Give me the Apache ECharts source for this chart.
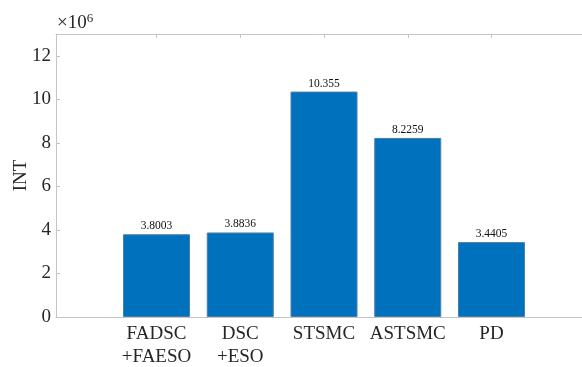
<!DOCTYPE html>
<html>
<head>
<meta charset="utf-8">
<script src="https://cdn.jsdelivr.net/npm/echarts@6/dist/echarts.min.js"></script>
<style>
  html, body { margin: 0; padding: 0; background: #fff; }
  #chart { width: 582px; height: 367px; }
</style>
</head>
<body>
<div id="chart"></div>
<script>
// Controller comparison: integral performance index (×10^6)
const categories = ['FADSC\n+FAESO', 'DSC\n+ESO', 'STSMC', 'ASTSMC', 'PD'];
const positions = [1, 2, 3, 4, 5];
const intValues = [3.8003, 3.8836, 10.355, 8.2259, 3.4405];
const valueLabels = ['3.8003', '3.8836', '10.355', '8.2259', '3.4405'];
const yTicks = [0, 2, 4, 6, 8, 10, 12];

const FONT = '"Liberation Serif", "DejaVu Serif", serif';
const AXIS = '#c4c4c4';
const TEXT = '#262626';

const chart = echarts.init(document.getElementById('chart'), null, { renderer: 'canvas' });

const xCommon = {
  type: 'value',
  min: -0.2,
  max: 6.2,
  splitLine: { show: false },
  axisLine: { show: true, onZero: false, lineStyle: { color: AXIS, width: 1 } },
  axisTick: { show: true, inside: true, length: 4, customValues: positions,
              lineStyle: { color: AXIS, width: 1 } }
};

chart.setOption({
  animation: false,
  grid: { left: 56, top: 34, right: -10, bottom: 50, containLabel: false, outerBoundsMode: 'none' },
  xAxis: [
    Object.assign({}, xCommon, {
      position: 'bottom',
      axisLabel: {
        show: true,
        customValues: positions,
        formatter: v => categories[positions.indexOf(Math.round(v))] || '',
        color: TEXT, fontFamily: FONT, fontSize: 19, lineHeight: 23, margin: 6
      }
    }),
    Object.assign({}, xCommon, {
      position: 'top',
      axisLabel: { show: false }
    })
  ],
  yAxis: [
    {
      type: 'value', min: 0, max: 13, position: 'left',
      name: 'INT', nameLocation: 'middle', nameGap: 25, nameRotate: 90,
      nameMoveOverlap: false,
      nameTextStyle: { color: TEXT, fontFamily: FONT, fontSize: 19 },
      splitLine: { show: false },
      axisLine: { show: true, onZero: false, lineStyle: { color: AXIS, width: 1 } },
      axisTick: { show: true, inside: true, length: 4, customValues: yTicks,
                  lineStyle: { color: AXIS } },
      axisLabel: { customValues: yTicks, color: TEXT, fontFamily: FONT, fontSize: 19, margin: 5 }
    },
    {
      type: 'value', min: 0, max: 13, position: 'right',
      splitLine: { show: false },
      axisLine: { show: true, onZero: false, lineStyle: { color: AXIS } },
      axisTick: { show: false },
      axisLabel: { show: false }
    }
  ],
  graphic: [
    {
      type: 'text', left: 57, top: 12,
      style: {
        text: '{m|×10}{e|6}',
        rich: {
          m: { fontFamily: FONT, fontSize: 19, fill: TEXT, verticalAlign: 'bottom', lineHeight: 21 },
          e: { fontFamily: FONT, fontSize: 13, fill: TEXT, verticalAlign: 'top', lineHeight: 21, padding: [0, 0, 9, 0] }
        }
      }
    }
  ],
  series: [
    {
      type: 'bar',
      xAxisIndex: 0, yAxisIndex: 0,
      barWidth: 67,
      data: positions.map((p, i) => [p, intValues[i]]),
      itemStyle: { color: '#0072BD', borderColor: '#4d7ea8', borderWidth: 1 },
      label: {
        show: true, position: 'top', distance: 2,
        formatter: p => valueLabels[p.dataIndex],
        color: '#111', fontFamily: FONT, fontSize: 11.5
      }
    }
  ]
});
</script>
</body>
</html>
